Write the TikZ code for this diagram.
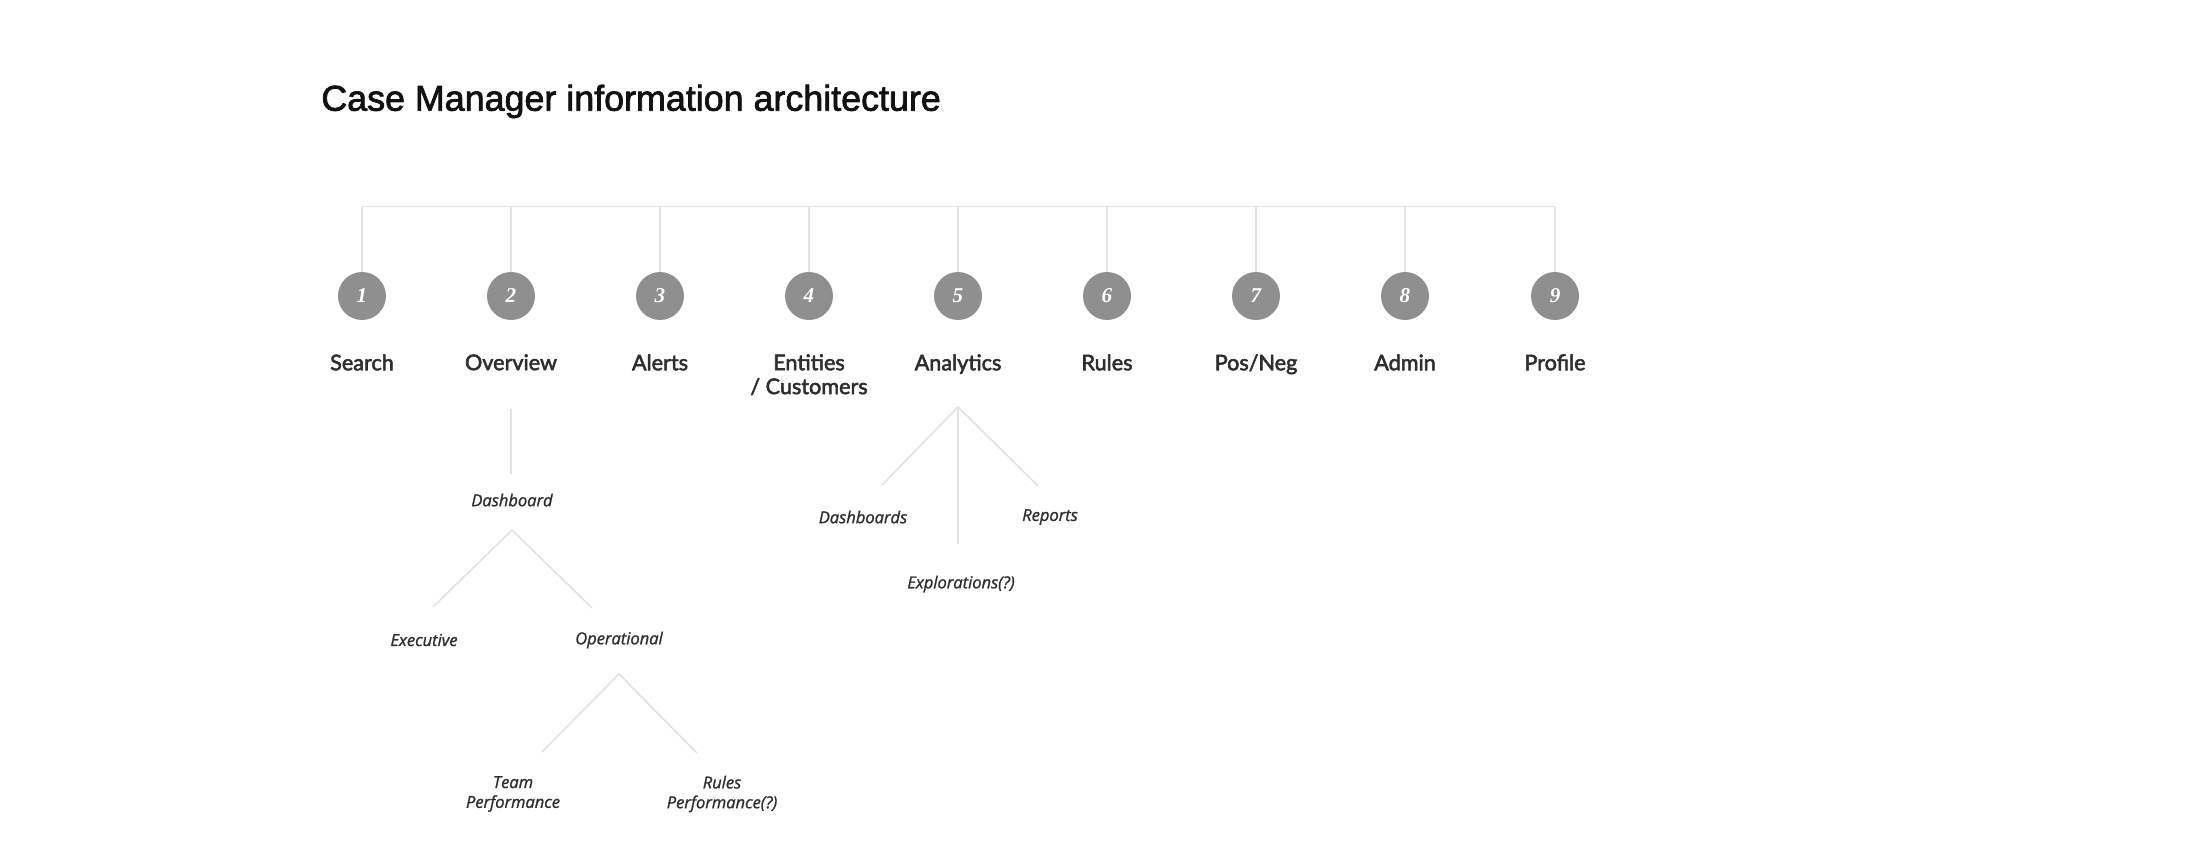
\documentclass[tikz,border=0pt]{standalone}
\usepackage{fontspec}
\usepackage{tikz}
\newfontfamily\titlefont[FakeBold=2]{Liberation Sans}
\newfontfamily\labelfont[FakeBold=2.5]{Lato}
\newfontfamily\subfont[FakeBold=1.2]{Open Sans}
\newfontfamily\numfont{Liberation Serif}
\definecolor{iadot}{HTML}{8F8F8F}
\definecolor{ialine}{HTML}{E2E2E2}
\definecolor{iatext}{HTML}{2E2E2E}
\definecolor{iatitle}{HTML}{111111}

\begin{document}
\begin{tikzpicture}[x=0.02cm, y=-0.02cm, line join=round,
	numdot/.style={circle, fill=iadot, draw=none, minimum size=0.96cm, inner sep=0pt, text=white, font=\fontsize{12}{12}\numfont\bfseries\itshape},
	toplabel/.style={anchor=north, inner sep=0pt, align=center, text=iatext, font=\fontsize{12.3}{13.6}\labelfont},
	sublabel/.style={inner sep=0pt, align=center, text=iatext, font=\fontsize{9.4}{11.3}\subfont\itshape},
	branch/.style={draw=ialine, line width=0.9pt}]
	\useasboundingbox (0,0) rectangle (2200,859);
	\node[anchor=base west, inner sep=0pt, text=iatitle, font=\fontsize{20.4}{20.4}\titlefont] (title) at (321,110.7) {Case Manager information architecture};
	% top bar
	\coordinate (b1) at (362,206.7);
	\coordinate (b2) at (511,206.7);
	\coordinate (b3) at (660,206.7);
	\coordinate (b4) at (809,206.7);
	\coordinate (b5) at (958,206.7);
	\coordinate (b6) at (1107,206.7);
	\coordinate (b7) at (1256,206.7);
	\coordinate (b8) at (1405,206.7);
	\coordinate (b9) at (1555,206.7);
	\node[numdot] (c1) at (362,296) {1};
	\node[numdot] (c2) at (511,296) {2};
	\node[numdot] (c3) at (660,296) {3};
	\node[numdot] (c4) at (809,296) {4};
	\node[numdot] (c5) at (958,296) {5};
	\node[numdot] (c6) at (1107,296) {6};
	\node[numdot] (c7) at (1256,296) {7};
	\node[numdot] (c8) at (1405,296) {8};
	\node[numdot] (c9) at (1555,296) {9};
	\draw[branch] (b1) -- (b9);
	\draw[branch] (b1) -- (c1.north);
	\draw[branch] (b2) -- (c2.north);
	\draw[branch] (b3) -- (c3.north);
	\draw[branch] (b4) -- (c4.north);
	\draw[branch] (b5) -- (c5.north);
	\draw[branch] (b6) -- (c6.north);
	\draw[branch] (b7) -- (c7.north);
	\draw[branch] (b8) -- (c8.north);
	\draw[branch] (b9) -- (c9.north);
	\node[toplabel] (search) at (362,354) {Search};
	\node[toplabel] (overview) at (511,354) {Overview};
	\node[toplabel] (alerts) at (660,354) {Alerts};
	\node[toplabel] (entities) at (809,354) {Entities\\/ Customers};
	\node[toplabel] (analytics) at (958,354) {Analytics};
	\node[toplabel] (rules) at (1107,354) {Rules};
	\node[toplabel] (posneg) at (1256,354) {Pos/Neg};
	\node[toplabel] (admin) at (1405,354) {Admin};
	\node[toplabel] (profile) at (1555,354) {Profile};
	% overview branch
	\node[sublabel] (dash) at (512,500) {Dashboard};
	\node[sublabel] (exec) at (424,640) {Executive};
	\node[sublabel] (oper) at (619,640) {Operational};
	\node[sublabel] (team) at (513,794) {Team\\Performance};
	\node[sublabel] (rulesperf) at (722,794) {Rules\\Performance(?)};
	\coordinate (ov-out) at (511,409);
	\coordinate (dash-in) at (511,474);
	\coordinate (dash-fork) at (512,530);
	\coordinate (exec-in) at (433,607);
	\coordinate (oper-in) at (592,608);
	\coordinate (oper-fork) at (619,674);
	\coordinate (team-in) at (542,752);
	\coordinate (rulesperf-in) at (697,753);
	\draw[branch] (ov-out) -- (dash-in);
	\draw[branch] (exec-in) -- (dash-fork) -- (oper-in);
	\draw[branch] (team-in) -- (oper-fork) -- (rulesperf-in);
	% analytics branch
	\node[sublabel] (dashs) at (863,517) {Dashboards};
	\node[sublabel] (reports) at (1050,517) {Reports};
	\node[sublabel] (explor) at (961,584) {Explorations(?)};
	\coordinate (an-fork) at (958,407);
	\coordinate (dashs-in) at (882,485);
	\coordinate (explor-in) at (958,544);
	\coordinate (reports-in) at (1038,486);
	\draw[branch] (dashs-in) -- (an-fork) -- (reports-in);
	\draw[branch] (an-fork) -- (explor-in);
\end{tikzpicture}
\end{document}
